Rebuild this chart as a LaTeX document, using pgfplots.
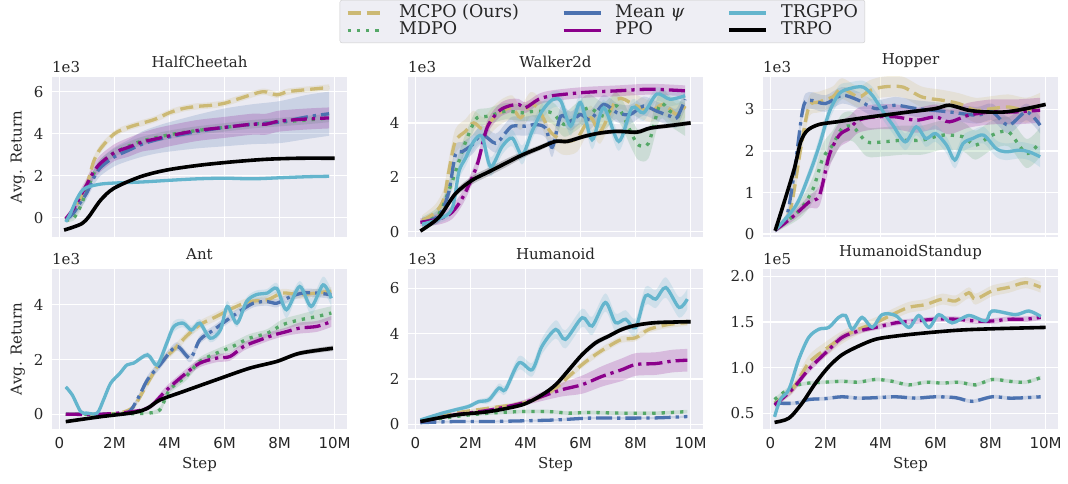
\documentclass[border=0pt]{standalone}
\usepackage{fontspec}
\setmainfont{DejaVu Serif}
\newfontfamily\dvsans{DejaVu Sans}
\usepackage{pgfplots}
\pgfplotsset{compat=1.18}
\usepackage{pgfplotstable}
\usepgfplotslibrary{fillbetween}
\definecolor{cmcpo}{HTML}{CCB974}
\definecolor{cmdpo}{HTML}{55A868}
\definecolor{cmean}{HTML}{4C72B0}
\definecolor{cppo}{HTML}{8B008B}
\definecolor{ctrg}{HTML}{64B5CD}
\definecolor{bgc}{HTML}{EAEAF2}
\definecolor{labc}{HTML}{262626}
\definecolor{legfill}{HTML}{EEEEF4}
\definecolor{legdraw}{HTML}{CCCCCC}
\newcommand{\fs}{\fontsize{15}{17}\selectfont}
\newcommand{\legfs}{\fontsize{17.5}{19}\selectfont}

% ---------------- HalfCheetah ----------------
\pgfplotstableread[row sep=\\]{x y e\\
0.23 -0.1 0.1\\ 0.5 0.3 0.15\\ 0.75 0.9 0.2\\ 1.0 1.6 0.2\\ 1.25 2.7 0.2\\ 1.5 3.3 0.2\\ 2.0 4.0 0.15\\ 2.5 4.3 0.15\\ 3.0 4.5 0.15\\ 3.5 4.7 0.15\\ 4.0 5.0 0.15\\ 4.5 5.2 0.15\\ 5.0 5.3 0.15\\ 5.5 5.35 0.15\\ 6.0 5.45 0.15\\ 6.6 5.7 0.15\\ 7.4 6.0 0.15\\ 7.9 5.85 0.15\\ 8.3 6.0 0.15\\ 9.0 6.1 0.15\\ 9.8 6.2 0.15\\
}\hcA
\pgfplotstableread[row sep=\\]{x y e\\
0.23 -0.1 0.1\\ 0.5 -0.05 0.1\\ 0.75 0.5 0.2\\ 1.0 1.3 0.2\\ 1.25 2.1 0.2\\ 1.5 2.6 0.2\\ 2.0 3.1 0.2\\ 2.5 3.4 0.2\\ 3.0 3.65 0.2\\ 4.0 3.95 0.2\\ 5.0 4.15 0.2\\ 6.0 4.3 0.2\\ 7.0 4.45 0.2\\ 8.0 4.55 0.2\\ 9.0 4.65 0.2\\ 9.8 4.75 0.2\\
}\hcB
\pgfplotstableread[row sep=\\]{x y e\\
0.23 -0.1 0.1\\ 0.5 0.2 0.2\\ 0.75 0.7 0.3\\ 1.0 1.2 0.3\\ 1.25 1.9 0.35\\ 1.5 2.4 0.4\\ 2.0 2.9 0.45\\ 2.5 3.2 0.5\\ 3.0 3.5 0.6\\ 3.5 3.7 0.65\\ 4.0 3.85 0.7\\ 5.0 4.1 0.8\\ 6.0 4.3 0.9\\ 7.0 4.45 0.95\\ 8.0 4.55 1.0\\ 9.0 4.8 1.05\\ 9.8 4.95 1.05\\
}\hcC
\pgfplotstableread[row sep=\\]{x y e\\
0.23 -0.05 0.1\\ 0.5 0.4 0.2\\ 0.75 1.0 0.3\\ 1.0 1.6 0.3\\ 1.25 2.2 0.35\\ 1.5 2.6 0.4\\ 2.0 3.1 0.4\\ 2.5 3.35 0.45\\ 3.0 3.6 0.45\\ 3.5 3.75 0.5\\ 4.0 3.9 0.5\\ 5.0 4.15 0.5\\ 6.0 4.3 0.5\\ 7.0 4.45 0.5\\ 7.5 4.45 0.5\\ 8.0 4.6 0.5\\ 9.0 4.7 0.5\\ 9.8 4.75 0.5\\
}\hcD
\pgfplotstableread[row sep=\\]{x y e\\
0.23 -0.2 0.05\\ 0.4 0.2 0.05\\ 0.6 0.8 0.05\\ 0.8 1.25 0.05\\ 1.0 1.45 0.05\\ 1.5 1.6 0.05\\ 2.0 1.65 0.05\\ 3.0 1.7 0.05\\ 4.0 1.78 0.05\\ 5.0 1.85 0.05\\ 6.0 1.88 0.05\\ 7.0 1.85 0.05\\ 8.0 1.9 0.05\\ 9.0 1.95 0.05\\ 9.8 1.97 0.05\\
}\hcE
\pgfplotstableread[row sep=\\]{x y e\\
0.17 -0.59 0.05\\ 0.5 -0.45 0.05\\ 0.83 -0.27 0.05\\ 1.07 0.05 0.05\\ 1.5 0.84 0.05\\ 1.98 1.4 0.05\\ 2.94 1.95 0.05\\ 3.9 2.27 0.05\\ 5.1 2.5 0.05\\ 6.3 2.66 0.05\\ 7.5 2.78 0.05\\ 8.7 2.83 0.05\\ 10 2.83 0.05\\
}\hcF

% ---------------- Walker2d ----------------
\pgfplotstableread[row sep=\\]{x y e\\
0.24 0.4 0.2\\ 0.73 0.71 0.3\\ 1.03 1.2 0.4\\ 1.21 2.2 0.45\\ 1.45 3.32 0.45\\ 1.82 3.69 0.45\\ 2.12 4.0 0.45\\ 2.48 3.75 0.45\\ 2.79 4.12 0.45\\ 3.15 4.43 0.45\\ 3.52 4.56 0.45\\ 3.82 4.19 0.45\\ 4.18 4.68 0.45\\ 4.48 4.5 0.45\\ 4.85 3.75 0.5\\ 5.1 3.5 0.5\\ 5.4 3.32 0.5\\ 5.88 3.44 0.5\\ 6.36 4.19 0.45\\ 6.72 3.69 0.45\\ 7.33 4.87 0.4\\ 7.93 4.68 0.4\\ 8.53 4.43 0.4\\ 9.0 4.68 0.4\\ 9.5 4.31 0.4\\ 9.8 4.62 0.4\\
}\wkA
\pgfplotstableread[row sep=\\]{x y e\\
0.24 0.34 0.2\\ 0.85 0.65 0.3\\ 1.33 1.83 0.3\\ 1.76 3.13 0.3\\ 2.06 3.88 0.3\\ 2.24 4.19 0.3\\ 2.67 4.25 0.3\\ 3.27 4.43 0.3\\ 3.88 4.37 0.3\\ 4.36 4.43 0.35\\ 4.97 4.37 0.4\\ 5.4 3.94 0.45\\ 5.88 4.25 0.5\\ 6.3 4.56 0.5\\ 6.84 4.25 0.5\\ 7.33 4.62 0.5\\ 7.87 3.57 0.55\\ 8.1 3.19 0.55\\ 8.47 3.25 0.55\\ 8.89 4.68 0.55\\ 9.25 4.43 0.55\\ 9.8 4.12 0.6\\
}\wkB
\pgfplotstableread[row sep=\\]{x y e\\
0.24 0.34 0.15\\ 0.85 0.58 0.25\\ 1.21 1.45 0.35\\ 1.45 2.82 0.35\\ 1.7 2.94 0.35\\ 2.06 3.19 0.35\\ 2.42 3.57 0.35\\ 2.91 3.25 0.35\\ 3.27 3.63 0.35\\ 3.52 3.88 0.35\\ 4.0 3.88 0.35\\ 4.36 3.94 0.35\\ 4.73 3.81 0.35\\ 4.97 3.1 0.35\\ 5.28 4.25 0.35\\ 5.64 4.06 0.35\\ 6.0 4.31 0.35\\ 6.36 4.12 0.35\\ 6.84 4.68 0.35\\ 7.33 4.37 0.35\\ 7.8 4.31 0.35\\ 8.29 4.62 0.35\\ 8.77 4.43 0.35\\ 9.25 4.25 0.35\\ 9.5 4.19 0.35\\ 9.8 4.87 0.35\\
}\wkC
\pgfplotstableread[row sep=\\]{x y e\\
0.18 0.34 0.15\\ 0.85 0.46 0.2\\ 1.33 0.71 0.25\\ 1.76 1.33 0.25\\ 2.24 2.45 0.25\\ 2.6 3.81 0.25\\ 3.03 4.43 0.25\\ 3.39 4.62 0.25\\ 3.76 4.68 0.2\\ 4.0 4.56 0.2\\ 4.48 4.87 0.2\\ 4.97 5.0 0.2\\ 6.12 5.12 0.2\\ 7.33 5.18 0.2\\ 8.53 5.24 0.2\\ 9.8 5.18 0.2\\
}\wkD
\pgfplotstableread[row sep=\\]{x y e\\
0.24 0.27 0.1\\ 0.85 0.46 0.15\\ 1.33 0.83 0.2\\ 1.58 2.2 0.3\\ 1.82 2.7 0.3\\ 2.12 3.32 0.3\\ 2.42 3.5 0.3\\ 2.73 2.39 0.35\\ 3.15 3.13 0.3\\ 3.52 3.44 0.3\\ 3.88 2.82 0.35\\ 4.24 3.69 0.3\\ 4.6 4.43 0.3\\ 4.97 4.85 0.3\\ 5.28 4.81 0.3\\ 5.64 3.88 0.35\\ 6.0 4.75 0.3\\ 6.42 3.38 0.35\\ 6.84 4.56 0.3\\ 7.39 3.32 0.35\\ 7.87 4.56 0.3\\ 8.29 4.37 0.3\\ 8.77 5.06 0.25\\ 9.25 4.87 0.25\\ 9.8 5.0 0.25\\
}\wkE
\pgfplotstableread[row sep=\\]{x y e\\
0.18 0.02 0.05\\ 0.85 0.52 0.1\\ 1.45 1.39 0.12\\ 2.06 1.89 0.15\\ 2.67 2.2 0.15\\ 3.27 2.51 0.15\\ 3.88 2.82 0.12\\ 4.48 3.07 0.1\\ 5.09 3.32 0.08\\ 5.52 3.32 0.08\\ 6.12 3.5 0.08\\ 6.72 3.63 0.08\\ 7.33 3.69 0.08\\ 8.05 3.66 0.08\\ 8.53 3.81 0.08\\ 9.25 3.9 0.08\\ 10 4.0 0.08\\
}\wkF

% ---------------- Hopper ----------------
\pgfplotstableread[row sep=\\]{x y e\\
0.17 0.13 0.05\\ 0.7 0.53 0.15\\ 1.1 2.06 0.25\\ 1.4 3.06 0.25\\ 1.78 3.18 0.25\\ 2.26 3.3 0.25\\ 2.6 3.5 0.25\\ 3.2 3.3 0.25\\ 3.6 3.45 0.25\\ 4.1 3.54 0.25\\ 4.8 3.54 0.25\\ 5.5 3.3 0.25\\ 6.25 3.22 0.25\\ 6.85 3.14 0.25\\ 7.45 2.98 0.3\\ 8.05 3.02 0.3\\ 8.65 3.06 0.3\\ 9.3 2.98 0.3\\ 9.8 3.1 0.3\\
}\hpA
\pgfplotstableread[row sep=\\]{x y e\\
0.17 0.09 0.05\\ 1.05 0.57 0.2\\ 1.55 1.09 0.3\\ 1.9 1.82 0.35\\ 2.26 2.14 0.35\\ 2.6 2.54 0.35\\ 3.0 2.58 0.35\\ 3.5 2.22 0.35\\ 4.1 2.22 0.35\\ 4.8 2.26 0.35\\ 5.5 2.26 0.35\\ 6.25 2.38 0.35\\ 7.0 2.34 0.35\\ 7.45 2.14 0.35\\ 8.05 2.38 0.35\\ 8.65 2.46 0.35\\ 9.3 1.94 0.35\\ 9.8 2.22 0.35\\
}\hpB
\pgfplotstableread[row sep=\\]{x y e\\
0.17 0.17 0.05\\ 0.57 0.37 0.1\\ 0.87 1.5 0.2\\ 1.17 2.98 0.2\\ 1.4 3.22 0.2\\ 2.0 3.14 0.2\\ 2.6 3.34 0.2\\ 3.2 3.22 0.2\\ 3.8 3.02 0.2\\ 4.55 3.1 0.2\\ 5.3 3.02 0.2\\ 6.5 2.94 0.2\\ 7.5 2.86 0.2\\ 8.05 2.94 0.2\\ 8.65 2.62 0.2\\ 9.3 2.94 0.2\\ 9.8 2.62 0.2\\
}\hpC
\pgfplotstableread[row sep=\\]{x y e\\
0.17 0.09 0.05\\ 0.8 0.41 0.1\\ 1.4 0.77 0.15\\ 1.78 0.93 0.25\\ 2.14 1.9 0.3\\ 2.5 2.38 0.3\\ 2.87 2.54 0.3\\ 3.2 2.74 0.3\\ 3.8 2.82 0.3\\ 4.55 2.82 0.3\\ 5.3 2.74 0.3\\ 6.0 2.82 0.3\\ 6.5 2.7 0.3\\ 7.2 2.86 0.3\\ 8.05 2.94 0.3\\ 8.9 2.94 0.3\\ 9.8 2.98 0.3\\
}\hpD
\pgfplotstableread[row sep=\\]{x y e\\
0.17 0.09 0.05\\ 0.93 0.69 0.1\\ 1.4 1.42 0.15\\ 1.78 2.14 0.2\\ 2.14 2.94 0.2\\ 2.5 3.38 0.2\\ 2.87 3.5 0.15\\ 3.35 3.54 0.15\\ 3.7 3.34 0.2\\ 4.1 2.94 0.2\\ 4.45 2.62 0.2\\ 4.9 2.22 0.2\\ 5.3 2.58 0.2\\ 5.65 2.3 0.2\\ 6.0 2.42 0.2\\ 6.4 2.14 0.2\\ 6.7 1.78 0.2\\ 7.0 2.18 0.2\\ 7.35 2.3 0.2\\ 7.75 2.38 0.2\\ 8.2 2.06 0.2\\ 8.55 1.98 0.2\\ 9.05 2.02 0.2\\ 9.4 1.98 0.2\\ 9.8 1.86 0.25\\
}\hpE
\pgfplotstableread[row sep=\\]{x y e\\
0.17 0.08 0.03\\ 0.5 0.77 0.04\\ 0.87 1.58 0.04\\ 1.1 2.22 0.04\\ 1.35 2.5 0.04\\ 1.78 2.64 0.04\\ 2.4 2.7 0.04\\ 3.2 2.78 0.04\\ 4.1 2.86 0.04\\ 5.05 2.94 0.04\\ 6.0 3.02 0.04\\ 6.5 3.1 0.04\\ 7.2 2.98 0.04\\ 7.8 2.94 0.04\\ 8.55 2.94 0.04\\ 9.3 3.02 0.04\\ 10 3.12 0.04\\
}\hpF

% ---------------- Ant ----------------
\pgfplotstableread[row sep=\\]{x y e\\
0.23 0 0.03\\ 1.5 0 0.03\\ 2.2 0.05 0.05\\ 2.7 0.28 0.1\\ 3.2 1.13 0.15\\ 3.65 1.87 0.15\\ 4.15 2.35 0.15\\ 4.6 2.84 0.15\\ 5.1 3.27 0.15\\ 5.7 3.57 0.15\\ 6.3 3.88 0.15\\ 6.9 4.12 0.15\\ 7.55 4.18 0.15\\ 8.1 4.43 0.15\\ 8.73 4.37 0.15\\ 9.3 4.43 0.15\\ 9.88 4.5 0.15\\
}\antA
\pgfplotstableread[row sep=\\]{x y e\\
0.23 0 0.03\\ 1.5 0 0.03\\ 2.5 0.02 0.03\\ 3.2 0.04 0.05\\ 3.65 0.16 0.1\\ 4.0 0.89 0.15\\ 4.6 1.38 0.15\\ 5.1 1.93 0.15\\ 5.7 2.23 0.15\\ 6.3 2.48 0.15\\ 6.9 2.78 0.15\\ 7.55 2.96 0.15\\ 8.1 3.27 0.2\\ 8.73 3.45 0.2\\ 9.35 3.57 0.25\\ 9.88 3.7 0.25\\
}\antB
\pgfplotstableread[row sep=\\]{x y e\\
0.23 0 0.03\\ 1.5 0 0.03\\ 2.45 0.04 0.05\\ 2.82 0.52 0.1\\ 3.2 1.26 0.15\\ 3.65 1.8 0.15\\ 4.25 2.48 0.15\\ 4.75 2.05 0.15\\ 5.1 2.72 0.15\\ 5.6 3.08 0.15\\ 6.1 3.45 0.15\\ 6.55 3.76 0.15\\ 7.05 4.06 0.15\\ 7.55 4.12 0.15\\ 7.9 4.06 0.15\\ 8.4 4.3 0.15\\ 8.85 4.43 0.15\\ 9.35 4.43 0.15\\ 9.88 4.37 0.15\\
}\antC
\pgfplotstableread[row sep=\\]{x y e\\
0.23 0 0.03\\ 1.5 0 0.03\\ 2.7 0.1 0.05\\ 3.3 0.28 0.1\\ 3.9 0.89 0.15\\ 4.6 1.5 0.15\\ 5.1 1.87 0.15\\ 5.7 2.05 0.15\\ 6.2 2.11 0.15\\ 6.7 2.48 0.15\\ 7.3 2.72 0.15\\ 7.8 2.9 0.15\\ 8.25 3.02 0.15\\ 8.73 3.15 0.2\\ 9.35 3.21 0.2\\ 9.88 3.39 0.2\\
}\antD
\pgfplotstableread[row sep=\\]{x y e\\
0.23 1.0 0.05\\ 0.47 0.7 0.05\\ 0.77 0.1 0.05\\ 1.0 0.04 0.05\\ 1.37 0.04 0.05\\ 1.6 0.52 0.05\\ 1.86 1.13 0.05\\ 2.2 1.5 0.05\\ 2.45 1.8 0.05\\ 2.7 1.87 0.05\\ 3.2 2.17 0.1\\ 3.55 1.8 0.15\\ 3.9 2.6 0.2\\ 4.15 3.2 0.2\\ 4.5 3.33 0.15\\ 4.8 3.08 0.15\\ 5.1 3.33 0.15\\ 5.48 2.78 0.15\\ 5.85 3.08 0.15\\ 6.1 3.94 0.2\\ 6.45 3.33 0.15\\ 6.8 4.12 0.15\\ 7.15 4.37 0.15\\ 7.55 4.43 0.15\\ 7.9 4.6 0.2\\ 8.25 3.82 0.3\\ 8.73 4.67 0.2\\ 9.15 3.94 0.3\\ 9.58 4.73 0.3\\ 9.88 4.24 0.3\\
}\antE
\pgfplotstableread[row sep=\\]{x y e\\
0.23 -0.27 0.03\\ 1.5 -0.09 0.03\\ 2.7 0.06 0.03\\ 3.2 0.22 0.04\\ 3.65 0.52 0.05\\ 4.5 0.83 0.05\\ 5.7 1.26 0.05\\ 6.9 1.68 0.05\\ 7.9 1.93 0.06\\ 8.73 2.23 0.08\\ 9.94 2.41 0.1\\
}\antF

% ---------------- Humanoid ----------------
\pgfplotstableread[row sep=\\]{x y e\\
0.18 0.12 0.05\\ 1.45 0.49 0.05\\ 2.67 0.71 0.08\\ 3.88 0.93 0.1\\ 4.6 1.23 0.12\\ 5.1 1.6 0.15\\ 5.58 2.12 0.15\\ 6.06 2.64 0.15\\ 6.55 3.08 0.15\\ 7.03 3.45 0.15\\ 7.5 3.75 0.15\\ 8.0 3.82 0.15\\ 8.48 4.19 0.15\\ 9.2 4.41 0.15\\ 9.88 4.49 0.15\\
}\humA
\pgfplotstableread[row sep=\\]{x y e\\
0.18 0.12 0.03\\ 1.45 0.34 0.05\\ 2.67 0.49 0.08\\ 3.88 0.56 0.08\\ 4.85 0.56 0.08\\ 5.58 0.49 0.08\\ 6.3 0.52 0.08\\ 7.5 0.49 0.08\\ 8.73 0.49 0.08\\ 9.88 0.56 0.08\\
}\humB
\pgfplotstableread[row sep=\\]{x y e\\
0.18 0.07 0.03\\ 1.45 0.12 0.04\\ 2.67 0.12 0.04\\ 3.88 0.15 0.04\\ 5.1 0.19 0.05\\ 6.3 0.27 0.05\\ 7.5 0.27 0.05\\ 8.73 0.28 0.05\\ 9.88 0.34 0.05\\
}\humC
\pgfplotstableread[row sep=\\]{x y e\\
0.18 0.12 0.03\\ 1.45 0.42 0.05\\ 2.67 0.62 0.08\\ 3.88 0.93 0.12\\ 4.6 1.23 0.2\\ 5.33 1.53 0.3\\ 6.06 1.75 0.4\\ 6.79 2.12 0.45\\ 7.5 2.41 0.5\\ 8.0 2.64 0.5\\ 8.73 2.68 0.5\\ 9.33 2.79 0.5\\ 9.88 2.83 0.5\\
}\humD
\pgfplotstableread[row sep=\\]{x y e\\
0.18 0.19 0.05\\ 0.97 0.49 0.05\\ 1.45 0.64 0.08\\ 1.94 0.79 0.1\\ 2.3 1.0 0.1\\ 2.67 1.08 0.15\\ 3.03 1.6 0.2\\ 3.27 1.53 0.2\\ 3.76 2.71 0.3\\ 4.24 2.41 0.3\\ 4.6 3.45 0.35\\ 5.1 4.19 0.4\\ 5.45 3.75 0.4\\ 6.06 4.71 0.4\\ 6.42 4.34 0.4\\ 6.9 5.38 0.4\\ 7.27 4.49 0.4\\ 7.64 4.64 0.4\\ 8.0 4.27 0.4\\ 8.36 5.67 0.4\\ 8.73 5.53 0.4\\ 9.1 6.04 0.45\\ 9.58 5.16 0.45\\ 9.88 5.53 0.45\\
}\humE
\pgfplotstableread[row sep=\\]{x y e\\
0.18 0.12 0.03\\ 1.45 0.41 0.04\\ 2.67 0.56 0.05\\ 3.88 0.86 0.06\\ 4.6 1.3 0.08\\ 5.1 1.75 0.1\\ 5.58 2.41 0.12\\ 6.06 3.08 0.12\\ 6.55 3.6 0.12\\ 7.03 3.9 0.1\\ 7.5 4.19 0.1\\ 8.0 4.37 0.08\\ 8.73 4.49 0.08\\ 10 4.53 0.08\\
}\humF

% ---------------- HumanoidStandup (1e5) ----------------
\pgfplotstableread[row sep=\\]{x y e\\
0.15 0.61 0.03\\ 0.79 0.76 0.05\\ 1.39 1.05 0.08\\ 2.0 1.2 0.08\\ 2.6 1.33 0.07\\ 3.2 1.42 0.06\\ 3.82 1.49 0.06\\ 4.42 1.58 0.06\\ 5.03 1.66 0.06\\ 5.64 1.69 0.06\\ 6.24 1.75 0.06\\ 6.73 1.73 0.06\\ 7.21 1.82 0.06\\ 7.45 1.75 0.06\\ 8.06 1.84 0.06\\ 8.67 1.88 0.06\\ 9.27 1.93 0.06\\ 9.82 1.88 0.06\\
}\hsA
\pgfplotstableread[row sep=\\]{x y e\\
0.15 0.65 0.02\\ 0.79 0.79 0.02\\ 1.39 0.83 0.02\\ 2.0 0.84 0.02\\ 2.6 0.85 0.02\\ 3.2 0.84 0.02\\ 3.82 0.87 0.02\\ 4.42 0.85 0.02\\ 5.03 0.81 0.02\\ 5.64 0.84 0.02\\ 6.24 0.83 0.02\\ 6.85 0.84 0.02\\ 7.45 0.81 0.02\\ 8.06 0.87 0.02\\ 8.67 0.85 0.02\\ 9.27 0.84 0.02\\ 9.82 0.89 0.02\\
}\hsB
\pgfplotstableread[row sep=\\]{x y e\\
0.15 0.61 0.02\\ 0.9 0.61 0.02\\ 1.39 0.65 0.02\\ 2.0 0.66 0.02\\ 2.6 0.68 0.02\\ 3.2 0.665 0.02\\ 3.82 0.67 0.02\\ 4.55 0.68 0.02\\ 5.27 0.665 0.02\\ 6.0 0.68 0.02\\ 6.73 0.67 0.02\\ 7.33 0.63 0.02\\ 8.06 0.68 0.02\\ 8.67 0.665 0.02\\ 9.27 0.67 0.02\\ 9.82 0.68 0.02\\
}\hsC
\pgfplotstableread[row sep=\\]{x y e\\
0.15 0.59 0.03\\ 0.79 0.76 0.04\\ 1.39 0.98 0.04\\ 2.0 1.16 0.04\\ 2.6 1.33 0.04\\ 3.2 1.40 0.03\\ 3.82 1.44 0.03\\ 4.55 1.49 0.03\\ 5.27 1.51 0.03\\ 6.0 1.53 0.03\\ 6.73 1.53 0.03\\ 7.45 1.51 0.03\\ 8.06 1.51 0.03\\ 8.67 1.53 0.03\\ 9.27 1.53 0.03\\ 9.82 1.55 0.03\\
}\hsD
\pgfplotstableread[row sep=\\]{x y e\\
0.15 0.46 0.02\\ 0.36 0.65 0.02\\ 0.67 0.76 0.02\\ 1.03 1.09 0.02\\ 1.39 1.33 0.02\\ 1.76 1.42 0.02\\ 2.12 1.44 0.02\\ 2.48 1.55 0.02\\ 2.73 1.57 0.02\\ 2.97 1.42 0.02\\ 3.33 1.55 0.02\\ 3.7 1.44 0.02\\ 4.06 1.58 0.02\\ 4.55 1.57 0.02\\ 5.03 1.44 0.02\\ 5.39 1.57 0.02\\ 5.76 1.44 0.02\\ 6.12 1.58 0.02\\ 6.6 1.49 0.02\\ 7.21 1.57 0.02\\ 7.82 1.51 0.02\\ 8.06 1.62 0.02\\ 8.9 1.58 0.02\\ 9.39 1.62 0.02\\ 9.82 1.56 0.02\\
}\hsE
\pgfplotstableread[row sep=\\]{x y e\\
0.15 0.40 0.01\\ 0.67 0.445 0.01\\ 1.15 0.61 0.01\\ 1.64 0.83 0.01\\ 2.12 1.01 0.01\\ 2.6 1.14 0.01\\ 3.2 1.235 0.01\\ 3.82 1.31 0.01\\ 4.55 1.345 0.01\\ 5.64 1.38 0.01\\ 6.85 1.41 0.01\\ 8.06 1.425 0.01\\ 10 1.44 0.01\\
}\hsF

\newcommand{\ser}[4]{%
\addplot[draw=none,forget plot,smooth,name path=u#4] table[x=x,y expr=\thisrow{y}+\thisrow{e}]{#1};
\addplot[draw=none,forget plot,smooth,name path=l#4] table[x=x,y expr=\thisrow{y}-\thisrow{e}]{#1};
\addplot[fill=#2,fill opacity=0.2,draw=none,forget plot] fill between[of=u#4 and l#4];
\addplot[#2,#3,smooth,forget plot] table[x=x,y=y]{#1};
}
\newcommand{\allser}[7]{%
\ser{#1}{cmcpo}{smcpo}{a#7}
\ser{#2}{cmdpo}{smdpo}{b#7}
\ser{#3}{cmean}{sdd}{c#7}
\ser{#4}{cppo}{sdd}{d#7}
\ser{#5}{ctrg}{ssol}{e#7}
\ser{#6}{black}{strpo}{f#7}
}

\tikzset{
 smcpo/.style={line width=3.3pt, dash pattern=on 13pt off 6pt},
 smdpo/.style={line width=3.3pt, dash pattern=on 3.3pt off 6pt},
 sdd/.style={line width=3.3pt, dash pattern=on 16pt off 5pt on 3.3pt off 5pt},
 ssol/.style={line width=3.3pt},
 strpo/.style={line width=3.6pt},
 e3/.style={anchor=south west, font=\fs, text=labc, inner sep=0pt, yshift=4pt},
}
\pgfplotsset{
 myax/.style={
  scale only axis, width=295pt, height=160pt, anchor=south west,
  axis background/.style={fill=bgc},
  axis line style={draw=none},
  grid=major, major grid style={white, line width=1.3pt},
  tick style={draw=none},
  xmin=-0.27, xmax=10.45, xtick={0,2,4,6,8,10},
  scaled ticks=false,
  tick label style={font=\fs, text=labc},
  yticklabel style={xshift=-5pt},
  xticklabel style={yshift=-5pt, font=\dvsans\fs},
  title style={font=\fs, text=labc},
  label style={font=\fs, text=labc},
  ylabel shift=2pt,
  xlabel style={yshift=-2pt},
  /pgf/number format/assume math mode=true,
 },
 exp/.style={extra description/.code={\node[e3] at (0,1) {#1};}},
}

\begin{document}
\begin{tikzpicture}
% top row
\begin{axis}[myax, exp=1e3, at={(52pt,247pt)}, ymin=-0.92, ymax=6.7, ytick={0,2,4,6}, xticklabels={}, title={HalfCheetah}, ylabel={Avg. Return}]
\allser{\hcA}{\hcB}{\hcC}{\hcD}{\hcE}{\hcF}{1}
\end{axis}
\begin{axis}[myax, exp=1e3, at={(408pt,247pt)}, ymin=-0.2, ymax=5.69, ytick={0,2,4}, xticklabels={}, title={Walker2d},
 legend columns=3,
 legend style={at={(0.659,1.481)}, anchor=north, fill=legfill, draw=legdraw, rounded corners=2pt, font=\legfs, text=labc, cells={anchor=west}, nodes={inner xsep=1pt, inner ysep=0.5pt, text height=12.5pt, text depth=3.8pt}, /tikz/every odd column/.append style={column sep=12pt}, /tikz/every even column/.append style={column sep=42pt}, inner xsep=6pt, inner ysep=4pt},
 legend image code/.code={\draw[#1] (0pt,0pt) -- (37pt,0pt);}]
\allser{\wkA}{\wkB}{\wkC}{\wkD}{\wkE}{\wkF}{2}
\addlegendimage{cmcpo, smcpo}\addlegendentry{MCPO (Ours)}
\addlegendimage{cmean, ssol}\addlegendentry{Mean \textit{ψ}}
\addlegendimage{ctrg, ssol}\addlegendentry{TRGPPO}
\addlegendimage{cmdpo, smdpo}\addlegendentry{MDPO}
\addlegendimage{cppo, ssol}\addlegendentry{PPO}
\addlegendimage{black, strpo}\addlegendentry{TRPO}
\end{axis}
\begin{axis}[myax, exp=1e3, at={(763pt,247pt)}, ymin=-0.07, ymax=3.78, ytick={0,1,2,3}, xticklabels={}, title={Hopper}]
\allser{\hpA}{\hpB}{\hpC}{\hpD}{\hpE}{\hpF}{3}
\end{axis}
% bottom row
\begin{axis}[myax, exp=1e3, at={(52pt,55pt)}, ymin=-0.54, ymax=5.31, ytick={0,2,4}, xticklabels={0,2M,4M,6M,8M,10M}, title={Ant}, ylabel={Avg. Return}, xlabel={Step}]
\allser{\antA}{\antB}{\antC}{\antD}{\antE}{\antF}{4}
\end{axis}
\begin{axis}[myax, exp=1e3, at={(408pt,55pt)}, ymin=-0.21, ymax=6.86, ytick={0,2,4,6}, xticklabels={0,2M,4M,6M,8M,10M}, title={Humanoid}, xlabel={Step}]
\allser{\humA}{\humB}{\humC}{\humD}{\humE}{\humF}{5}
\end{axis}
\begin{axis}[myax, exp=1e5, at={(763pt,55pt)}, ymin=0.327, ymax=2.08, ytick={0.5,1.0,1.5,2.0}, yticklabel style={/pgf/number format/.cd, fixed, fixed zerofill, precision=1}, xticklabels={0,2M,4M,6M,8M,10M}, title={HumanoidStandup}, xlabel={Step}]
\allser{\hsA}{\hsB}{\hsC}{\hsD}{\hsE}{\hsF}{6}
\end{axis}
\path (0,0) rectangle (1068pt,484pt);
\end{tikzpicture}
\end{document}
